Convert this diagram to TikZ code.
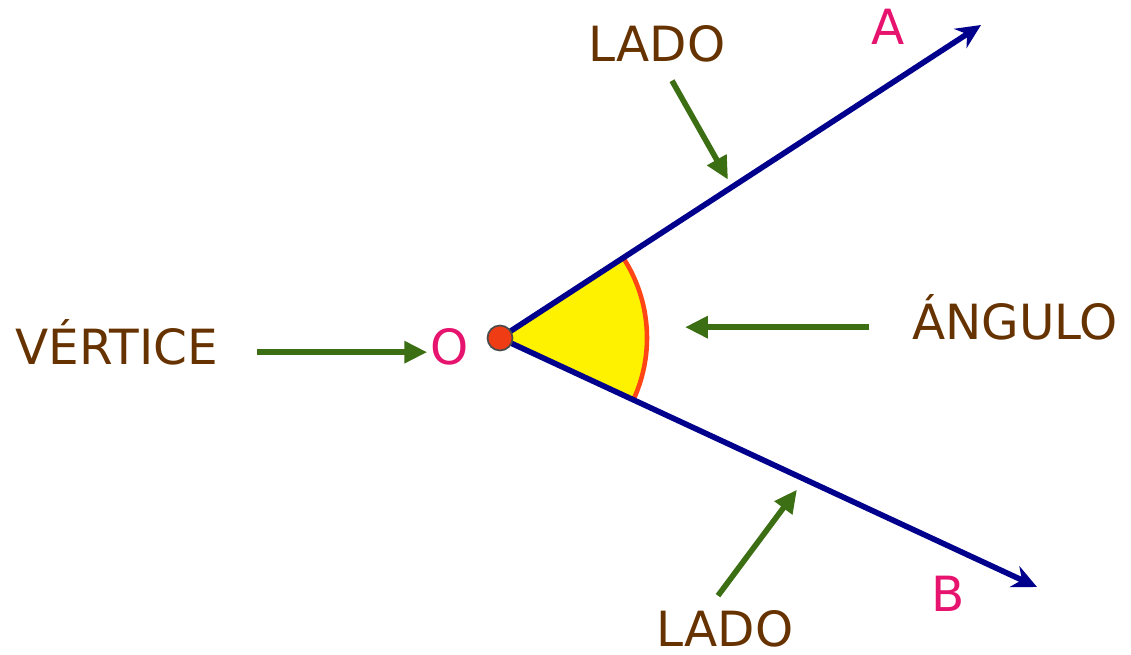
\documentclass[tikz,border=0pt]{standalone}
\usepackage{fontspec}
\setmainfont{DejaVu Sans}
\usetikzlibrary{arrows.meta,calc}
\definecolor{raycol}{RGB}{0,0,140}
\definecolor{txtbrown}{RGB}{102,51,0}
\definecolor{ptpink}{RGB}{230,20,110}
\definecolor{arrgreen}{RGB}{60,110,20}
\definecolor{arccol}{RGB}{255,70,20}
\definecolor{dotcol}{RGB}{240,60,20}
\begin{document}
\begin{tikzpicture}[
    font=\fontsize{13.8}{16}\selectfont,
    word/.style={text=txtbrown, inner sep=0pt, anchor=base, text height=0.73em, text depth=0pt},
    point/.style={text=ptpink, inner sep=0pt, anchor=base, text height=0.73em, text depth=0pt},
    ray/.style={-{Stealth[length=7pt,width=6.5pt]}, raycol, line width=1.6pt},
    pointer/.style={-{Triangle[length=6.5pt,width=6pt]}, arrgreen, line width=1.6pt}
]
    \useasboundingbox (0,0) rectangle (11.31,6.55);

    % Vertex and rays
    \coordinate (O) at (5.00,3.17);
    \coordinate (tipA) at (9.81,6.30);
    \coordinate (tipB) at (10.37,0.68);

    % Angle sector
    \fill[yellow] (O) -- ($(O)+(33.05:1.47)$) arc[start angle=33.05, end angle=-24.88, radius=1.47] -- cycle;
    \draw[arccol, line width=1.3pt] ($(O)+(33.05:1.47)$) arc[start angle=33.05, end angle=-24.88, radius=1.47];

    \draw[ray] (O) -- (tipA);
    \draw[ray] (O) -- (tipB);
    \node[circle, fill=dotcol, draw=black!70, line width=0.5pt, minimum size=0.25cm, inner sep=0pt] (dot) at (O) {};

    % Labels
    \node[word] (ladoA) at (6.57,5.93) {LADO};
    \node[word] (ladoB) at (7.25,0.08) {LADO};
    \node[word] (vert) at (1.17,2.90) {VÉRTICE};
    \node[word] (ang) at (10.15,3.15) {ÁNGULO};
    \node[point] (olbl) at (4.50,2.90) {O};
    \node[point] (lblA) at (8.88,6.10) {A};
    \node[point] (lblB) at (9.48,0.43) {B};

    % Pointers
    \coordinate (sideA) at ($(O)!0.474!(tipA)$);
    \coordinate (sideB) at ($(O)!0.553!(tipB)$);
    \coordinate (angtip) at (6.85,3.29);
    \draw[pointer] ([shift={(0.15,-0.18)}]ladoA.south) -- ([yshift=0.10cm]sideA);
    \draw[pointer] ([shift={(-0.07,0.25)}]ladoB.north) -- ([yshift=-0.14cm]sideB);
    \draw[pointer] ([xshift=0.38cm]vert.east) -- ([xshift=-0.03cm]olbl.west);
    \draw[pointer] ([xshift=-0.42cm]ang.west) -- (ang.west -| angtip);
\end{tikzpicture}
\end{document}
